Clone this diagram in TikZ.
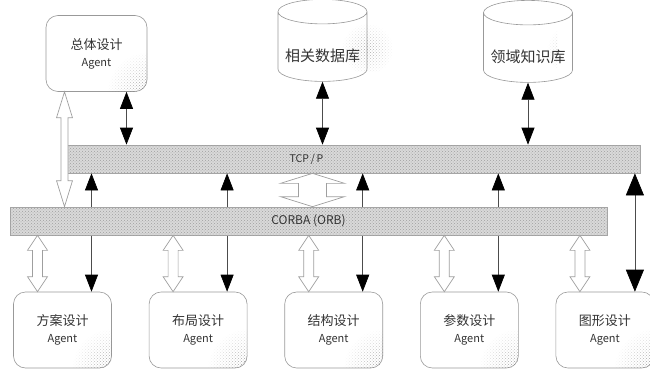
\documentclass[tikz,border=0pt]{standalone}
\usepackage{fontspec}
\setmainfont{Noto Sans CJK SC}
\usetikzlibrary{arrows.meta,positioning,calc,shapes.geometric,patterns,fadings}

\tikzfading[name=cornerfade, inner color=transparent!0, outer color=transparent!100]

\tikzset{
  % rounded agent boxes
  agentbox/.style={draw=gray!80, line width=0.6pt, rounded corners=12pt, fill=white,
    minimum width=98pt, minimum height=76pt, align=center, text=black!80,
    font=\fontsize{13}{15}\selectfont},
  % database cylinders
  dbcyl/.style={cylinder, shape border rotate=90, aspect=0.3, draw=gray!80,
    line width=0.6pt, fill=white, minimum width=89pt, minimum height=82pt,
    text=black!80, font=\fontsize{15}{17}\selectfont},
  % the two communication bars
  busbar/.style={draw=gray!70, line width=0.7pt, fill=gray!30, text=black!80,
    postaction={pattern=crosshatch dots, pattern color=gray!75},
    font=\fontsize{10.5}{12}\selectfont},
  % thin lines with solid heads
  msgarr/.style={{Triangle[length=17pt,width=13pt,black]}-{Triangle[length=17pt,width=13pt,black]},
    line width=0.7pt, draw=gray!60!black},
  bigheads/.style={{Triangle[length=22pt,width=18pt,black]}-{Triangle[length=22pt,width=18pt,black]}},
  % outline of the hollow arrows
  hollowarr/.style={draw=gray!75, line width=0.7pt, fill=white, line join=miter},
}
\newcommand{\agentfont}{\fontsize{11}{13}\selectfont}
% hollow double arrow: top point, bottom point, half shaft, half head, head length
\newcommand{\hollowlink}[5]{%
  \draw[hollowarr] let \p1=(#1), \p2=(#2) in
    (\x1,\y1) -- (\x1+#4pt,\y1-#5pt) -- (\x1+#3pt,\y1-#5pt) -- (\x1+#3pt,\y2+#5pt)
    -- (\x1+#4pt,\y2+#5pt) -- (\x1,\y2) -- (\x1-#4pt,\y2+#5pt) -- (\x1-#3pt,\y2+#5pt)
    -- (\x1-#3pt,\y1-#5pt) -- (\x1-#4pt,\y1-#5pt) -- cycle;}
% dotted shade in a box corner
\newcommand{\cornerhatch}[2]{%
  \begin{scope}
    \clip[rounded corners=12pt] (#1.south west) rectangle (#1.north east);
    \fill[pattern=crosshatch dots, pattern color=gray!95, path fading=cornerfade]
      (#1.south east) circle (#2);
  \end{scope}}

\begin{document}
\begin{tikzpicture}[x=1pt, y=-1pt]
  \useasboundingbox (0,0) rectangle (650,369);
  % top row
  \node[agentbox, minimum width=101pt] (overall) at (96.5,53.5) {总体设计\\[2pt]{\agentfont Agent}};
  \node[dbcyl] (relDB) at (322.5,49) {\raisebox{-13pt}[0pt][0pt]{相关数据库}};
  \node[dbcyl] (domKB) at (528,50) {\raisebox{-13pt}[0pt][0pt]{领域知识库}};
  \cornerhatch{overall}{40pt}
  \begin{scope}
    \clip ([yshift=-16pt]relDB.north west) rectangle ([yshift=8pt]domKB.south east);
    \fill[pattern=crosshatch dots, pattern color=gray!80, path fading=cornerfade] (relDB.east) circle (26pt);
    \fill[pattern=crosshatch dots, pattern color=gray!80, path fading=cornerfade] (domKB.east) circle (26pt);
  \end{scope}
  % bottom row of design agents
  \node[agentbox] (plan) at (62.5,330) {方案设计\\[2pt]{\agentfont Agent}};
  \node[agentbox, right=37pt of plan] (layout) {布局设计\\[2pt]{\agentfont Agent}};
  \node[agentbox, right=37pt of layout] (struct) {结构设计\\[2pt]{\agentfont Agent}};
  \node[agentbox, right=37pt of struct] (param) {参数设计\\[2pt]{\agentfont Agent}};
  \node[agentbox, right=37pt of param] (graph) {图形设计\\[2pt]{\agentfont Agent}};
  \foreach \ag in {plan,layout,struct,param,graph}
    \cornerhatch{\ag}{40pt};
  % TCP/IP bus
  \node[busbar, minimum width=579pt, minimum height=28pt,
    label={[font=\fontsize{10.5}{12}\selectfont, text=black!80, xshift=-44pt]center:TCP\,/\,P}] (tcp) at (350.5,159) {};
  % black links
  \draw[msgarr] ([xshift=30pt]overall.south) -- ([xshift=30pt]overall.south |- tcp.north);
  \draw[msgarr] (relDB.south) -- (relDB.south |- tcp.north);
  \draw[msgarr] (domKB.south) -- (domKB.south |- tcp.north);
  \foreach \ag in {plan,layout,struct,param}
    \draw[msgarr] ([xshift=29pt]\ag.north) -- ([xshift=29pt]\ag.north |- tcp.south);
  \draw[msgarr, bigheads] ([xshift=30pt]graph.north) -- ([xshift=30pt]graph.north |- tcp.south);
  % CORBA bus
  \node[busbar, minimum width=597pt, minimum height=28pt, font=\fontsize{12}{14}\selectfont] (corba) at (308.5,221) {CORBA (ORB)};
  % hollow links
  \hollowlink{[xshift=-32pt]overall.south}{[xshift=-32pt]overall.south |- corba.north}{3.5}{8}{26}
  \hollowlink{[xshift=4pt]corba.north |- tcp.south}{[xshift=4pt]corba.north}{14}{32}{10}
  \foreach \ag in {plan,layout,struct,param,graph}
    \hollowlink{[xshift=-25pt]\ag.north |- corba.south}{[xshift=-25pt]\ag.north}{5}{10}{15};
\end{tikzpicture}
\end{document}
